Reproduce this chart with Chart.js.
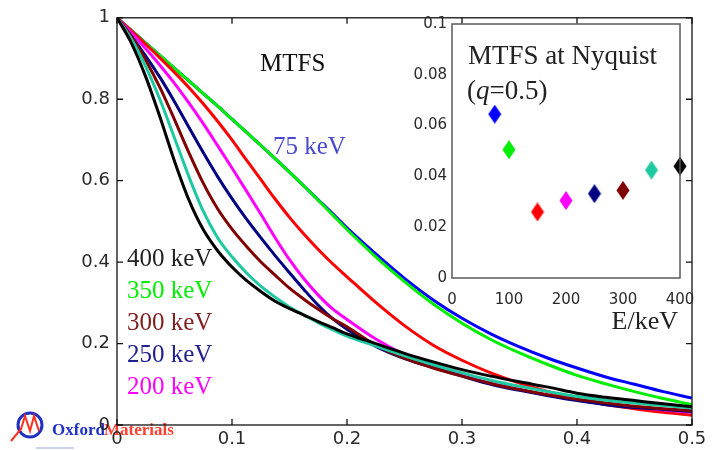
<!DOCTYPE html>
<html>
<head>
<meta charset="utf-8">
<script src="https://cdn.jsdelivr.net/npm/chart.js@4.4.0/dist/chart.umd.min.js"></script>
<style>
  html, body { margin: 0; padding: 0; background: #fff; }
  #wrap { position: relative; width: 712px; height: 450px; }
  #main { position: absolute; left: 0; top: 0; }
  #inset { position: absolute; left: 400px; top: 0; }
</style>
</head>
<body>
<div id="wrap">
  <canvas id="main" width="712" height="450"></canvas>
  <canvas id="inset" width="312" height="345"></canvas>
</div>
<script>
// spatial frequency q (cycles/pixel): finer steps where the curves bend
var qValues = [0, 0.0125, 0.025, 0.0375, 0.05, 0.0625, 0.075, 0.0875, 0.1, 0.1125, 0.125,
               0.1375, 0.15, 0.1625, 0.175, 0.1875, 0.2, 0.225, 0.25, 0.275, 0.3,
               0.325, 0.35, 0.375, 0.4, 0.425, 0.45, 0.475, 0.5];

// MTFS, one array per beam energy
var mtf75  = [1, 0.969, 0.938, 0.907, 0.876, 0.845, 0.814, 0.783, 0.751, 0.719, 0.687, 0.654, 0.621, 0.587, 0.553, 0.519, 0.484, 0.42, 0.36, 0.307, 0.262, 0.224, 0.192, 0.164, 0.14, 0.118, 0.1, 0.082, 0.066];
var mtf100 = [1, 0.969, 0.938, 0.907, 0.876, 0.845, 0.814, 0.783, 0.751, 0.719, 0.687, 0.654, 0.621, 0.587, 0.552, 0.516, 0.48, 0.413, 0.352, 0.297, 0.25, 0.21, 0.177, 0.148, 0.122, 0.101, 0.082, 0.065, 0.05];
var mtf150 = [1, 0.968, 0.935, 0.901, 0.866, 0.829, 0.789, 0.746, 0.7, 0.651, 0.603, 0.555, 0.51, 0.469, 0.431, 0.396, 0.364, 0.301, 0.244, 0.196, 0.159, 0.128, 0.103, 0.082, 0.063, 0.05, 0.04, 0.031, 0.024];
var mtf200 = [1, 0.963, 0.924, 0.883, 0.839, 0.791, 0.74, 0.686, 0.631, 0.575, 0.518, 0.46, 0.406, 0.359, 0.319, 0.285, 0.259, 0.211, 0.173, 0.146, 0.122, 0.103, 0.087, 0.073, 0.062, 0.052, 0.044, 0.037, 0.031];
var mtf250 = [1, 0.955, 0.906, 0.853, 0.794, 0.731, 0.669, 0.61, 0.556, 0.506, 0.46, 0.416, 0.374, 0.333, 0.294, 0.261, 0.235, 0.193, 0.163, 0.141, 0.12, 0.1, 0.085, 0.072, 0.06, 0.05, 0.043, 0.038, 0.033];
var mtf300 = [1, 0.954, 0.896, 0.828, 0.75, 0.669, 0.594, 0.531, 0.481, 0.439, 0.401, 0.368, 0.336, 0.309, 0.284, 0.261, 0.241, 0.196, 0.164, 0.14, 0.12, 0.102, 0.087, 0.074, 0.063, 0.054, 0.046, 0.04, 0.035];
var mtf350 = [1, 0.948, 0.88, 0.798, 0.705, 0.61, 0.525, 0.46, 0.413, 0.374, 0.341, 0.314, 0.29, 0.27, 0.251, 0.234, 0.218, 0.194, 0.17, 0.148, 0.128, 0.11, 0.095, 0.082, 0.07, 0.061, 0.054, 0.048, 0.042];
var mtf400 = [1, 0.938, 0.855, 0.755, 0.648, 0.553, 0.48, 0.428, 0.388, 0.355, 0.328, 0.304, 0.286, 0.27, 0.254, 0.239, 0.224, 0.2, 0.176, 0.155, 0.136, 0.12, 0.106, 0.093, 0.078, 0.068, 0.06, 0.052, 0.045];

var energies = [75, 100, 150, 200, 250, 300, 350, 400];
var energyColors = ['#0000ff', '#00ee00', '#ff0000', '#ff00ff', '#000080', '#800000', '#1ec8a0', '#000000'];
// MTFS at Nyquist (q = 0.5), inset
var nyquistMtf = [0.0645, 0.0505, 0.026, 0.0305, 0.0332, 0.0345, 0.0425, 0.044];

var mainXTicks = [0, 0.1, 0.2, 0.3, 0.4, 0.5];
var mainYTicks = [0, 0.2, 0.4, 0.6, 0.8, 1];
var insetXTicks = [0, 100, 200, 300, 400];
var insetYTicks = [0, 0.02, 0.04, 0.06, 0.08, 0.1];

var curveLabels = [
  { text: '400 keV', color: '#222222' },
  { text: '350 keV', color: '#00ee00' },
  { text: '300 keV', color: '#802020' },
  { text: '250 keV', color: '#202090' },
  { text: '200 keV', color: '#ff00ff' }
];

Chart.defaults.font.family = "'DejaVu Sans', sans-serif";
Chart.defaults.font.size = 18;
Chart.defaults.color = '#2a2a2a';

var SERIF = "'Liberation Serif', 'Times New Roman', serif";

function fmt(v) { return String(Number(v.toFixed(3))); }

function pairs(ys) {
  return qValues.map(function (q, i) { return { x: q, y: ys[i] }; });
}

// frame round the plot with MATLAB style inward ticks on all four sides
function framePlugin(color, width, tickLen, xTicks, yTicks) {
  return {
    id: 'frame',
    afterDatasetsDraw: function (chart) {
      var a = chart.chartArea, ctx = chart.ctx;
      var xs = chart.scales.x, ys = chart.scales.y;
      ctx.save();
      ctx.strokeStyle = color;
      ctx.lineWidth = width;
      ctx.strokeRect(a.left, a.top, a.right - a.left, a.bottom - a.top);
      ctx.beginPath();
      (xTicks || []).forEach(function (v) {
        var px = xs.getPixelForValue(v);
        ctx.moveTo(px, a.bottom); ctx.lineTo(px, a.bottom - tickLen);
        ctx.moveTo(px, a.top); ctx.lineTo(px, a.top + tickLen);
      });
      (yTicks || []).forEach(function (v) {
        var py = ys.getPixelForValue(v);
        ctx.moveTo(a.left, py); ctx.lineTo(a.left + tickLen, py);
        ctx.moveTo(a.right, py); ctx.lineTo(a.right - tickLen, py);
      });
      ctx.stroke();
      ctx.restore();
    }
  };
}

var mainText = {
  id: 'mainText',
  beforeDraw: function (chart) {
    // Oxford Materials logo, bottom left
    var ctx = chart.ctx;
    ctx.save();
    ctx.strokeStyle = '#2030c0';
    ctx.lineWidth = 3;
    ctx.beginPath();
    ctx.arc(30, 425, 12, 0, Math.PI * 2);
    ctx.stroke();
    ctx.strokeStyle = '#ff3020';
    ctx.lineWidth = 2;
    ctx.beginPath();
    ctx.moveTo(11, 441); ctx.lineTo(21, 429); ctx.lineTo(25, 416); ctx.lineTo(30, 431);
    ctx.lineTo(34, 416); ctx.lineTo(39, 431);
    ctx.stroke();
    ctx.strokeStyle = '#c8d4f0';
    ctx.lineWidth = 2;
    ctx.beginPath();
    ctx.moveTo(36, 448); ctx.lineTo(74, 448);
    ctx.stroke();
    ctx.font = "bold 17px 'Liberation Serif', serif";
    ctx.textBaseline = 'middle';
    ctx.fillStyle = '#2030c8';
    ctx.fillText('Oxford', 52, 431);
    ctx.fillStyle = '#ff4030';
    ctx.fillText('Materials', 104, 431);
    ctx.restore();
  },
  afterDatasetsDraw: function (chart) {
    var ctx = chart.ctx, a = chart.chartArea;
    ctx.save();
    ctx.textBaseline = 'middle';
    ctx.textAlign = 'left';
    ctx.font = '25px ' + SERIF;
    ctx.fillStyle = '#111';
    ctx.fillText('MTFS', a.left + 143, 64);
    ctx.fillStyle = '#4848d0';
    ctx.fillText('75 keV', a.left + 156, 147);
    curveLabels.forEach(function (l, i) {
      ctx.fillStyle = l.color;
      ctx.fillText(l.text, a.left + 10, 259 + i * 32);
    });
    ctx.restore();
  }
};

var mainDatasets = [mtf75, mtf100, mtf150, mtf200, mtf250, mtf300, mtf350, mtf400].map(function (ys, i) {
  return {
    label: energies[i] + ' keV',
    data: pairs(ys),
    borderColor: energyColors[i],
    borderWidth: 3,
    pointRadius: 0,
    fill: false,
    cubicInterpolationMode: 'monotone',
    order: energies.length - i
  };
});

new Chart(document.getElementById('main'), {
  type: 'line',
  data: { datasets: mainDatasets },
  options: {
    responsive: false,
    animation: false,
    devicePixelRatio: 1,
    layout: { padding: { left: 0, right: 20, top: 14, bottom: 0 } },
    plugins: { legend: { display: false }, tooltip: { enabled: false } },
    scales: {
      x: {
        type: 'linear', min: 0, max: 0.5,
        afterBuildTicks: function (s) { s.ticks = mainXTicks.map(function (v) { return { value: v }; }); },
        afterFit: function (s) { s.height = 25; },
        grid: { display: false, drawTicks: false, tickLength: 0 },
        border: { display: false },
        ticks: { padding: 4, maxRotation: 0, callback: fmt }
      },
      y: {
        type: 'linear', min: 0, max: 1,
        afterBuildTicks: function (s) { s.ticks = mainYTicks.map(function (v) { return { value: v }; }); },
        afterFit: function (s) { s.width = 117; },
        grid: { display: false, drawTicks: false, tickLength: 0 },
        border: { display: false },
        ticks: { padding: 7, callback: fmt }
      }
    }
  },
  plugins: [framePlugin('#111', 1.3, 6, mainXTicks, mainYTicks), mainText]
});

// diamond marker, a little taller than wide
function makeDiamond(color) {
  var c = document.createElement('canvas');
  c.width = 14; c.height = 19;
  var g = c.getContext('2d');
  g.fillStyle = color;
  g.beginPath();
  g.moveTo(7, 0); g.lineTo(13.5, 9.5); g.lineTo(7, 19); g.lineTo(0.5, 9.5);
  g.closePath();
  g.fill();
  return c;
}

var insetText = {
  id: 'insetText',
  beforeDatasetsDraw: function (chart) {
    var a = chart.chartArea, ctx = chart.ctx;
    ctx.save();
    ctx.fillStyle = '#fff';
    ctx.fillRect(a.left, a.top, a.right - a.left, a.bottom - a.top);
    ctx.restore();
  },
  afterDraw: function (chart) {
    var a = chart.chartArea, ctx = chart.ctx;
    ctx.save();
    ctx.fillStyle = '#222';
    ctx.textBaseline = 'middle';
    ctx.font = '27px ' + SERIF;
    ctx.fillText('MTFS at Nyquist', a.left + 16, 57);
    var x = a.left + 15;
    ctx.fillText('(', x, 92); x += ctx.measureText('(').width;
    ctx.font = 'italic 27px ' + SERIF;
    ctx.fillText('q', x, 92); x += ctx.measureText('q').width;
    ctx.font = '27px ' + SERIF;
    ctx.fillText('=0.5)', x, 92);
    ctx.textAlign = 'right';
    ctx.font = '26px ' + SERIF;
    ctx.fillText('E/keV', a.right - 2, 322);
    ctx.restore();
  }
};

new Chart(document.getElementById('inset'), {
  type: 'scatter',
  data: {
    datasets: [{
      data: energies.map(function (e, i) { return { x: e, y: nyquistMtf[i] }; }),
      pointStyle: energyColors.map(makeDiamond),
      pointRadius: 8,
      clip: false
    }]
  },
  options: {
    responsive: false,
    animation: false,
    devicePixelRatio: 1,
    layout: { padding: { left: 0, right: 32, top: 24, bottom: 0 } },
    plugins: { legend: { display: false }, tooltip: { enabled: false } },
    scales: {
      x: {
        type: 'linear', min: 0, max: 400,
        afterBuildTicks: function (s) { s.ticks = insetXTicks.map(function (v) { return { value: v }; }); },
        afterFit: function (s) { s.height = 67; },
        grid: { display: false, drawTicks: false, tickLength: 0 },
        border: { display: false },
        ticks: { padding: 13, maxRotation: 0, font: { size: 15 }, callback: fmt }
      },
      y: {
        type: 'linear', min: 0, max: 0.1,
        afterBuildTicks: function (s) { s.ticks = insetYTicks.map(function (v) { return { value: v }; }); },
        afterFit: function (s) { s.width = 52; },
        grid: { display: false, drawTicks: false, tickLength: 0 },
        border: { display: false },
        ticks: { padding: 5, font: { size: 15 }, callback: fmt }
      }
    }
  },
  plugins: [insetText, framePlugin('#5a5a5a', 1.5, 0, [], [])]
});
</script>
</body>
</html>
